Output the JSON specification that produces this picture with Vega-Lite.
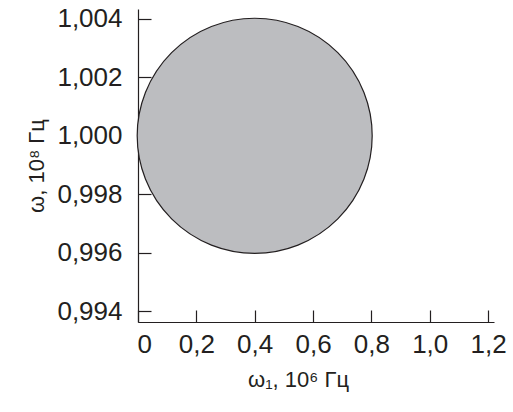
{
  "$schema": "https://vega.github.io/schema/vega-lite/v6.json",
  "autosize": {"type": "none"},
  "width": 356,
  "height": 313,
  "padding": {"left": 138, "top": 9, "right": 19, "bottom": 90},
  "background": "white",
  "data": {"values": [{"w1": 0.4, "w": 1.0}]},
  "mark": {"type": "circle", "size": 55225, "fill": "#bcbdc0", "fillOpacity": 1, "stroke": "#231f20", "strokeWidth": 1.2},
  "encoding": {
    "x": {
      "field": "w1", "type": "quantitative",
      "scale": {"domain": [0, 1.2203], "nice": false, "zero": false},
      "axis": {
        "values": [0, 0.2, 0.4, 0.6, 0.8, 1.0, 1.2],
        "labelExpr": "datum.value == 0 ? '0' : replace(format(datum.value, '.1f'), '.', ',')",
        "labelFlush": 1, "labelFlushOffset": 1,
        "tickSize": -12, "labelPadding": 21,
        "title": "ω₁, 10⁶ Гц",
        "titleFontSize": 22, "titlePadding": 12, "titleX": 160
      }
    },
    "y": {
      "field": "w", "type": "quantitative",
      "scale": {"domain": [0.993624, 1.004342], "nice": false, "zero": false},
      "axis": {
        "values": [0.994, 0.996, 0.998, 1.0, 1.002, 1.004],
        "labelExpr": "replace(format(datum.value, '.3f'), '.', ',')",
        "tickSize": -13, "labelPadding": 29,
        "title": "ω, 10⁸ Гц",
        "titleFontSize": 22, "titlePadding": 8
      }
    }
  },
  "config": {
    "view": {"stroke": null},
    "font": "Liberation Sans",
    "axis": {
      "grid": false,
      "domainColor": "#231f20", "domainWidth": 1.2,
      "tickColor": "#231f20", "tickWidth": 1.2,
      "labelFont": "Liberation Sans", "labelFontSize": 26, "labelColor": "#231f20",
      "titleFont": "Liberation Sans", "titleFontWeight": "normal", "titleColor": "#231f20"
    }
  }
}
